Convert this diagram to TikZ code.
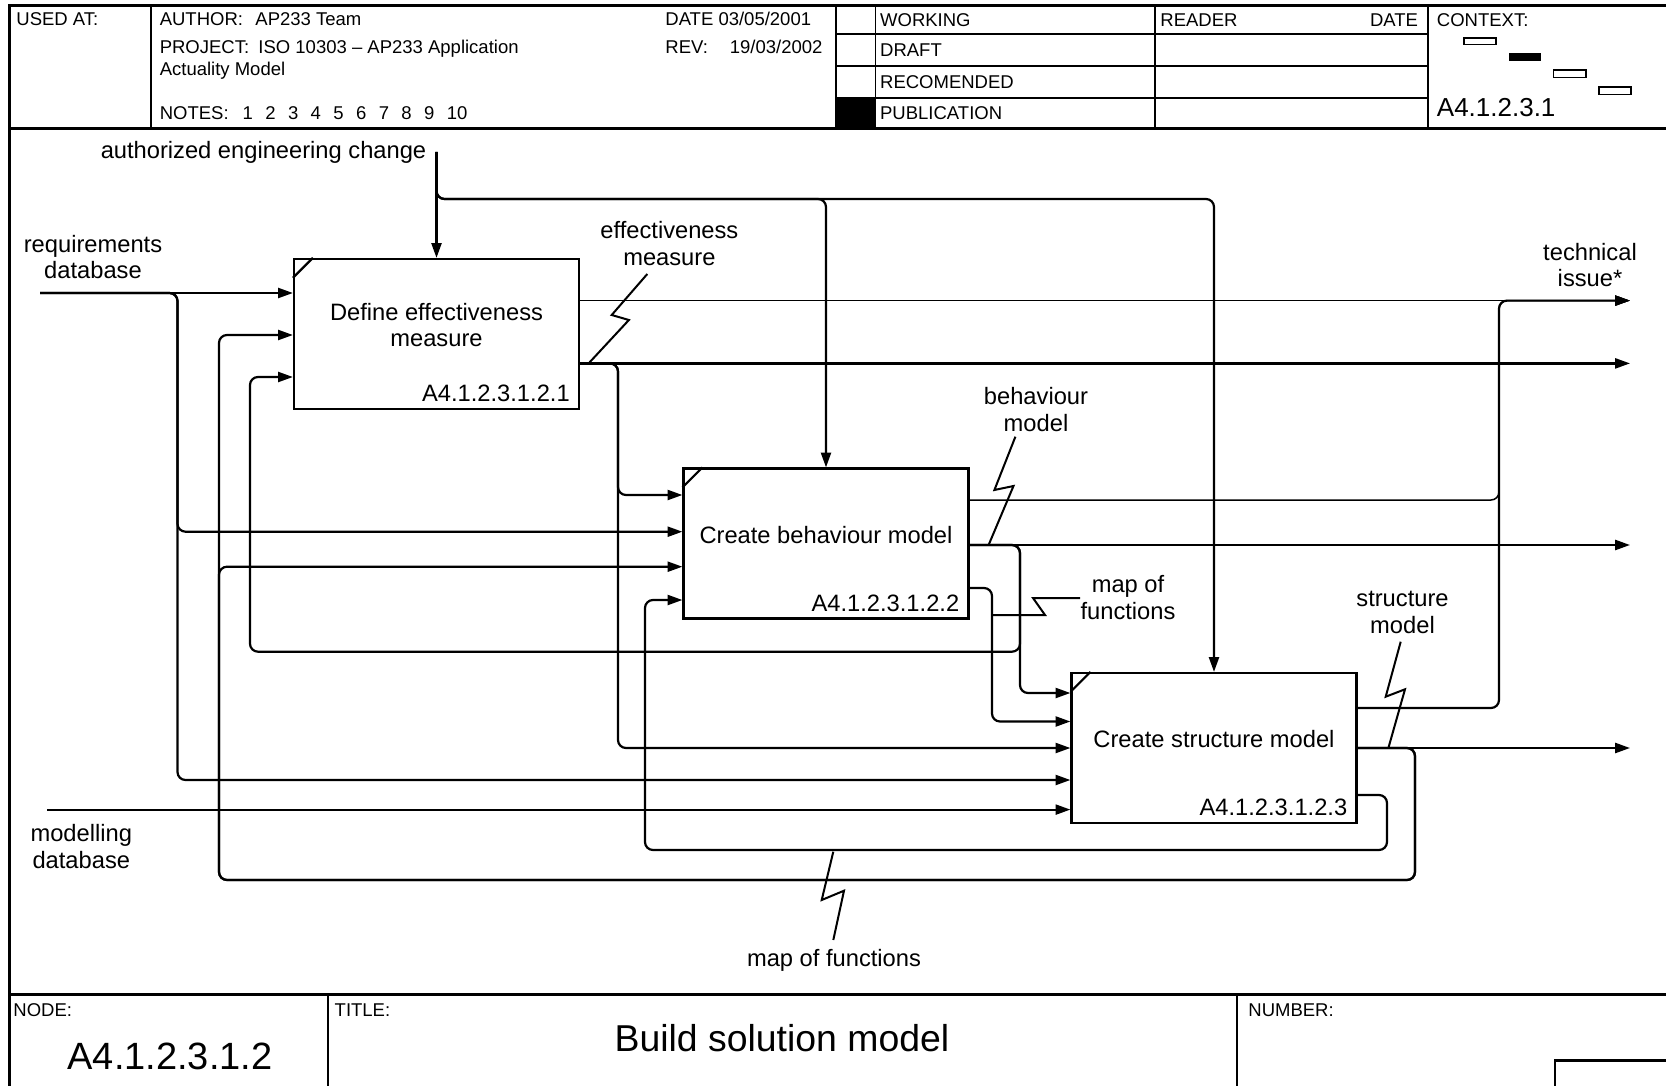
\documentclass[tikz,border=0pt]{standalone}
\usepackage{fontspec}
\setmainfont{Liberation Sans}
\usetikzlibrary{arrows.meta}

\newcommand{\bodysize}{\fontsize{11.85pt}{13.3pt}\selectfont}
\newcommand{\formsize}{\fontsize{9.25pt}{11pt}\selectfont}
\newcommand{\notesep}{\hspace{6.2pt}}

\begin{document}
\begin{tikzpicture}[x=0.5pt, y=-0.5pt,
  frame/.style={line width=1.3pt},
  rule/.style={line width=0.9pt},
  act/.style={draw, line width=1.1pt, minimum width=142.5pt, minimum height=75pt, align=center, inner sep=0pt, font=\bodysize, text depth=9pt},
  actid/.style={anchor=south east, inner xsep=5pt, inner ysep=3.8pt, font=\bodysize},
  lbl/.style={align=center, inner sep=1pt, font=\bodysize},
  form/.style={anchor=west, inner sep=0pt, text height=6.6pt, text depth=0pt, font=\formsize},
  arrow/.style={-{Triangle[length=7.4pt,width=5pt]}, line width=1.1pt, rounded corners=4pt},
  thinarrow/.style={arrow, line width=0.75pt},
  squig/.style={line width=1pt}
]
\useasboundingbox (0,0) rectangle (1666,1086);

\draw[frame] (9.6,1086) -- (9.6,5.3) -- (1666,5.3);
\draw[frame] (9.6,128.6) -- (1666,128.6);
\draw[frame] (9.6,994.5) -- (1666,994.5);
\draw[rule] (150.9,5.3) -- (150.9,128.6);
\draw[rule] (836.2,5.3) -- (836.2,128.6);
\draw[rule] (875.5,5.3) -- (875.5,128.6);
\draw[rule] (1155,5.3) -- (1155,128.6);
\draw[rule] (1428,5.3) -- (1428,128.6);
\draw[rule] (836.2,34) -- (1428,34);
\draw[frame] (836.2,65.9) -- (1428,65.9);
\draw[rule] (836.2,97.75) -- (1428,97.75);
\fill (836.2,97.75) rectangle (875.5,128.6);
\draw[rule] (1464,38.25) rectangle (1496,44.6);
\fill (1508.75,53.1) rectangle (1540.6,60.6);
\draw[rule] (1553.4,70.1) rectangle (1586.3,77.6);
\draw[rule] (1599,87.1) rectangle (1631,94.6);
\draw[rule] (327.8,994.5) -- (327.8,1086);
\draw[rule] (1236.75,994.5) -- (1236.75,1086);
\draw[frame] (1555,1086) -- (1555,1060.4) -- (1666,1060.4);

\node[form] (usedat) at (16,19) {USED AT:};
\node[form] (author) at (159.4,19) {AUTHOR:\hspace{6.2pt}AP233 Team};
\node[form] (project) at (159.4,46.75) {PROJECT:\hspace{4.6pt}ISO 10303 -- AP233 Application};
\node[form] (project2) at (159.4,69) {Actuality Model};
\node[form] (notes) at (159.4,112.5) {NOTES:\hspace{7pt}1\notesep 2\notesep 3\notesep 4\notesep 5\notesep 6\notesep 7\notesep 8\notesep 9\notesep 10};
\node[form] (date) at (665,19) {DATE 03/05/2001};
\node[form] (rev) at (665,46.75) {REV:\hspace{11pt}19/03/2002};
\node[form] (working) at (879.75,20) {WORKING};
\node[form] (draft) at (879.75,50) {DRAFT};
\node[form] (recom) at (879.75,81.7) {RECOMENDED};
\node[form] (publ) at (879.75,113) {PUBLICATION};
\node[form] (reader) at (1160,20) {READER};
\node[form, anchor=east] (rdate) at (1418.4,20) {DATE};
\node[form] (context) at (1436.5,20) {CONTEXT:};
\node[form, font=\fontsize{13pt}{15pt}\selectfont, text height=9.3pt] (ctxid) at (1436.5,107.5) {A4.1.2.3.1};
\node[form] (nodelbl) at (13,1010) {NODE:};
\node[form] (titlelbl) at (334.3,1010) {TITLE:};
\node[form] (numlbl) at (1248,1010) {NUMBER:};
\node[inner sep=0pt, font=\fontsize{19pt}{22pt}\selectfont] (nodeid) at (170,1056.7) {A4.1.2.3.1.2};
\node[inner sep=0pt, font=\fontsize{18.7pt}{22pt}\selectfont] (title) at (782,1038) {Build solution model};

\node[act] (def) at (436.5,334) {Define effectiveness\\measure};
\node[act] (beh) at (826,543.5) {Create behaviour model};
\node[act] (str) at (1214,748) {Create structure model};
\node[actid] (defid) at (def.south east) {A4.1.2.3.1.2.1};
\node[actid] (behid) at (beh.south east) {A4.1.2.3.1.2.2};
\node[actid] (strid) at (str.south east) {A4.1.2.3.1.2.3};
\draw[line width=1.1pt] ([yshift=-10pt]def.north west) -- ([xshift=10pt]def.north west);
\draw[line width=1.1pt] ([yshift=-10pt]beh.north west) -- ([xshift=10pt]beh.north west);
\draw[line width=1.1pt] ([yshift=-10pt]str.north west) -- ([xshift=10pt]str.north west);

\node[lbl] (aecl) at (263.5,152) {authorized engineering change};
\node[lbl] (reql) at (93,257) {requirements\\database};
\node[lbl] (modl) at (81.3,846.5) {modelling\\database};
\node[lbl] (eml) at (669.4,243.8) {effectiveness\\measure};
\node[lbl] (tecl) at (1590,265) {technical\\issue*};
\node[lbl] (bml) at (1036,409.7) {behaviour\\model};
\node[lbl] (mfl) at (1128,597.5) {map of\\functions};
\node[lbl] (sml) at (1402.5,612.5) {structure\\model};
\node[lbl] (mfbl) at (834,960) {map of functions};

\coordinate (aec) at (def.north |- aecl.center);
\coordinate (ctl) at (436.5,199);
\coordinate (req) at (40,293);
\coordinate (reqrail) at (177.5,293);
\coordinate (mod) at (47,809.6);
\coordinate (rim) at (1630,0);
\coordinate (effrail) at (618,420);
\coordinate (aSE) at (1415,880);
\coordinate (aW) at (219,600);
\coordinate (bSE) at (1020,651.7);
\coordinate (bW) at (250,500);
\coordinate (cSE) at (1387,850);
\coordinate (cW) at (645,700);
\coordinate (mrail) at (992,650);
\coordinate (trail) at (1499,400);
\coordinate (tech) at ([yshift=16.7pt]def.east);
\coordinate (eff) at ([yshift=-14.7pt]def.east);
\coordinate (bmod) at ([yshift=-0.75pt]beh.east);

\draw[arrow] (aec) -- (def.north);
\draw[arrow] (aec) -- (ctl) -| (beh.north);
\draw[arrow] (aec) -- (ctl) -| (str.north);
\draw[arrow] (req) -- (req -| def.west);
\draw[arrow] (req) -- (reqrail) |- ([yshift=5.9pt]beh.west);
\draw[arrow] (req) -- (reqrail) |- ([yshift=-16pt]str.west);
\draw[arrow] (mod) -- (mod -| str.west);
\draw[thinarrow] (tech) -- (tech -| rim);
\draw[arrow] (eff) -- (eff -| rim);
\draw[arrow] (eff) -| (effrail) |- ([yshift=24.25pt]beh.west);
\draw[arrow] (eff) -| (effrail) |- (str.west);
\draw[thinarrow] ([yshift=21.75pt]beh.east) -| (trail) |- (tech -| rim);
\draw[arrow] (bmod) -- (bmod -| rim);
\draw[arrow] (bmod) -| (bSE) -| (bW) |- ([yshift=-21.5pt]def.west);
\draw[arrow] (bmod) -| (bSE) |- ([yshift=27.5pt]str.west);
\draw[arrow] ([yshift=-22.25pt]beh.east) -| (mrail) |- ([yshift=13.25pt]str.west);
\draw[arrow] ([yshift=20pt]str.east) -| (trail) |- (tech -| rim);
\draw[arrow] (str.east) -- (str.east -| rim);
\draw[arrow] (str.east) -| (aSE) -| (aW) |- ([yshift=-0.5pt]def.west);
\draw[arrow] (str.east) -| (aSE) -| (aW) |- ([yshift=-11.6pt]beh.west);
\draw[arrow] ([yshift=-23.5pt]str.east) -| (cSE) -| (cW) |- ([yshift=-28.25pt]beh.west);

\draw[squig] ([shift={(-22.1,30.2)}]eml.center) -- ++(-35.6,41) -- ++(17.2,5) -- ++(-40.2,43.3);
\draw[squig] ([shift={(-20.6,27)}]bml.center) -- ++(-21,53.3) -- ++(19.1,-4) -- ++(-24.9,59);
\draw[squig] ([shift={(-1.8,29.2)}]sml.center) -- ++(-15,55) -- ++(19.3,-7.4) -- ++(-16.7,59);
\draw[squig] ([shift={(-0.7,-20)}]mfbl.center) -- ++(10.7,-49.3) -- ++(-22.3,9.3) -- ++(11.6,-48.3);
\draw[squig] ([shift={(-48,0.5)}]mfl.center) -- ++(-47,0) -- ++(12,17) -- ++(-53,0);
\end{tikzpicture}
\end{document}
